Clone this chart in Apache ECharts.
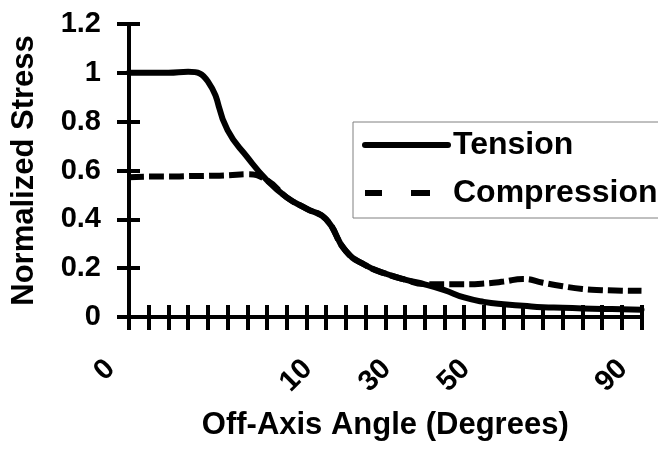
<!DOCTYPE html>
<html>
<head>
<meta charset="utf-8">
<script src="https://cdn.jsdelivr.net/npm/echarts@6/dist/echarts.min.js"></script>
<style>
html,body{margin:0;padding:0;background:#fff;}
#c{width:658px;height:450px;}
</style>
</head>
<body>
<div id="c"></div>
<script>
// Off-axis angle categories (degrees)
const angles = ['0','1','2','3','4','5','6','7','8','9','10','15','20','25','30','35','40','45','50','55','60','65','70','75','80','85','90'];
// Tick labels shown on the x axis
const shownLabels = ['0','10','30','50','90'];
// Series values (normalized stress)
const tension = [1.0, 1.0, 1.0, 1.004, 0.965, 0.765, 0.655, 0.56, 0.49, 0.444, 0.40, 0.27, 0.212, 0.178, 0.153, 0.134, 0.11, 0.08, 0.062, 0.052, 0.046, 0.04, 0.038, 0.035, 0.033, 0.032, 0.03];
const compression = [0.572, 0.575, 0.575, 0.577, 0.578, 0.58, 0.585, 0.56, 0.49, 0.444, 0.40, 0.27, 0.212, 0.178, 0.153, 0.135, 0.134, 0.134, 0.137, 0.145, 0.156, 0.14, 0.126, 0.115, 0.11, 0.108, 0.107];
// Y axis scale
const yMin = 0, yMax = 1.2, yStep = 0.2;

const FONT = '"Liberation Sans", Arial, sans-serif';
const chart = echarts.init(document.getElementById('c'), null, {renderer: 'canvas'});
const axisLineStyle = {color: '#000', width: 4};
chart.setOption({
  backgroundColor: '#fff',
  animation: false,
  grid: {left: 129, right: 16.5, top: 24, bottom: 133, containLabel: false},
  legend: {
    orient: 'vertical',
    left: 353, top: 122,
    padding: [7, 10, 9, 9],
    itemWidth: 83, itemHeight: 6, itemGap: 16,
    borderColor: '#808080', borderWidth: 1,
    backgroundColor: '#fff',
    textStyle: {fontFamily: FONT, fontWeight: 'bold', fontSize: 32, color: '#000'},
    data: [
      {name: 'Tension', lineStyle: {width: 6, color: '#000', type: 'solid', cap: 'round'}},
      {name: 'Compression', icon: 'path://M0,0H17V6H0Z M46,0H65V6H46Z M83,0L83,6', itemStyle: {color: '#000'}}
    ]
  },
  xAxis: [{
    type: 'category', data: angles, boundaryGap: false, position: 'bottom',
    axisLine: {show: true, onZero: false, lineStyle: axisLineStyle},
    axisTick: {show: true, inside: false, length: 13, interval: 0, lineStyle: {color: '#000', width: 4}},
    axisLabel: {
      interval: 0, rotate: 45, margin: 29,
      padding: [0, 26, 0, 0],
      fontFamily: FONT, fontWeight: 'bold', fontSize: 29, color: '#000',
      formatter: v => shownLabels.includes(v) ? v : ''
    },
    splitLine: {show: false},
    name: 'Off-Axis Angle (Degrees)', nameLocation: 'middle', nameGap: 93,
    nameTextStyle: {fontFamily: FONT, fontWeight: 'bold', fontSize: 31, color: '#000'}
  }, {
    type: 'category', data: angles, boundaryGap: false, position: 'bottom',
    axisLine: {show: false},
    axisTick: {show: true, inside: true, length: 12, interval: 0, lineStyle: {color: '#000', width: 4}},
    axisLabel: {show: false}, splitLine: {show: false}
  }],
  yAxis: [{
    type: 'value', min: yMin, max: yMax, interval: yStep, position: 'left',
    axisLine: {show: true, onZero: false, lineStyle: axisLineStyle},
    axisTick: {show: true, inside: false, length: 12, lineStyle: {color: '#000', width: 4}},
    axisLabel: {margin: 28, fontFamily: FONT, fontWeight: 'bold', fontSize: 29, color: '#000'},
    splitLine: {show: false},
    name: 'Normalized Stress', nameLocation: 'middle', nameGap: 89, nameRotate: 90,
    nameTextStyle: {fontFamily: FONT, fontWeight: 'bold', fontSize: 31, color: '#000'}
  }, {
    type: 'value', min: yMin, max: yMax, interval: yStep, position: 'left',
    axisLine: {show: false},
    axisTick: {show: true, inside: true, length: 11, lineStyle: {color: '#000', width: 4}},
    axisLabel: {show: false}, splitLine: {show: false}
  }],
  series: [{
    name: 'Compression', type: 'line', data: compression, smooth: 0.5,
    symbol: 'none', showSymbol: false, xAxisIndex: 0, yAxisIndex: 0,
    lineStyle: {color: '#000', width: 6, type: [15, 5], cap: 'butt'},
    itemStyle: {color: '#000'}, z: 2
  }, {
    name: 'Tension', type: 'line', data: tension, smooth: 0.5,
    symbol: 'none', showSymbol: false, xAxisIndex: 0, yAxisIndex: 0,
    lineStyle: {color: '#000', width: 6, type: 'solid', cap: 'round', join: 'round'},
    itemStyle: {color: '#000'}, z: 3
  }]
});
</script>
</body>
</html>
